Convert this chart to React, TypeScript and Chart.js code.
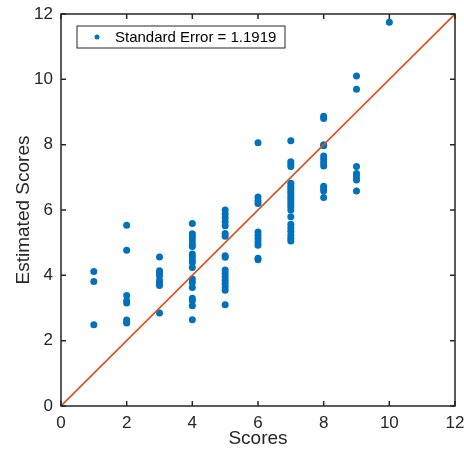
import { useEffect, useRef } from "react";
import { Chart, registerables } from "chart.js";

Chart.register(...registerables);

const scoreLevels = [1, 2, 3, 4, 5, 6, 7, 8, 9, 10];
const estimatesByScore = [
  [4.12, 3.81, 2.49],
  [5.53, 4.77, 3.38, 3.22, 3.15, 2.63, 2.58, 2.54],
  [4.56, 4.14, 4.06, 3.99, 3.84, 3.77, 3.69, 2.85],
  [5.59, 5.27, 5.18, 5.08, 4.96, 4.88, 4.65, 4.57, 4.47, 4.4, 4.24, 3.89, 3.78, 3.63, 3.3, 3.22, 3.07, 2.64],
  [6.0, 5.88, 5.76, 5.64, 5.52, 5.28, 5.2, 4.6, 4.55, 4.16, 4.06, 3.96, 3.85, 3.75, 3.64, 3.54, 3.1],
  [8.06, 6.4, 6.28, 6.2, 5.33, 5.23, 5.13, 5.02, 4.92, 4.52, 4.48],
  [8.12, 7.48, 7.41, 7.33, 6.82, 6.73, 6.66, 6.58, 6.51, 6.43, 6.35, 6.27, 6.18, 6.1, 6.0, 5.79, 5.56, 5.45, 5.35, 5.23, 5.13, 5.05],
  [8.87, 8.8, 8.0, 7.97, 7.65, 7.55, 7.45, 7.35, 6.73, 6.66, 6.58, 6.38],
  [10.1, 9.7, 7.33, 7.12, 7.02, 6.92, 6.58],
  [11.75],
];
const identityLine = [0, 12];
const axisTicks = [0, 2, 4, 6, 8, 10, 12];
const legendLabel = "Standard Error = 1.1919";

const BLUE = "rgb(0, 114, 189)";
const ORANGE = "rgb(217, 83, 25)";
const INK = "#262626";
const FONT = "'Liberation Sans', Arial, Helvetica, sans-serif";

const framePlugin = {
  id: "frame",
  afterDraw(chart: Chart) {
    const { ctx, chartArea } = chart;
    const { left, right, top, bottom } = chartArea;
    const xs = chart.scales.x;
    const ys = chart.scales.y;
    ctx.save();
    ctx.strokeStyle = INK;
    ctx.lineWidth = 1.5;
    ctx.strokeRect(left, top, right - left, bottom - top);
    ctx.beginPath();
    axisTicks.forEach((t) => {
      const px = xs.getPixelForValue(t);
      ctx.moveTo(px, bottom);
      ctx.lineTo(px, bottom - 5);
      ctx.moveTo(px, top);
      ctx.lineTo(px, top + 5);
      const py = ys.getPixelForValue(t);
      ctx.moveTo(left, py);
      ctx.lineTo(left + 5, py);
      ctx.moveTo(right, py);
      ctx.lineTo(right - 5, py);
    });
    ctx.stroke();

    // legend box inside the plot, top left
    const bx = left + 16;
    const by = top + 12;
    const bw = 208;
    const bh = 22;
    ctx.fillStyle = "#fff";
    ctx.fillRect(bx, by, bw, bh);
    ctx.lineWidth = 1;
    ctx.strokeRect(bx, by, bw, bh);
    ctx.fillStyle = BLUE;
    ctx.beginPath();
    ctx.arc(bx + 20, by + bh / 2, 2.5, 0, Math.PI * 2);
    ctx.fill();
    ctx.fillStyle = "#000";
    ctx.font = `15px ${FONT}`;
    ctx.textBaseline = "middle";
    ctx.fillText(legendLabel, bx + 38, by + bh / 2 + 1);
    ctx.restore();
  },
};

export default function App() {
  const canvasRef = useRef<HTMLCanvasElement>(null);

  useEffect(() => {
    if (!canvasRef.current) return;

    const points = scoreLevels.flatMap((s, i) =>
      estimatesByScore[i].map((e) => ({ x: s, y: e }))
    );

    const chart = new Chart(canvasRef.current, {
      type: "scatter",
      data: {
        datasets: [
          {
            label: "identity",
            data: identityLine.map((v) => ({ x: v, y: v })),
            showLine: true,
            borderColor: ORANGE,
            borderWidth: 1.6,
            pointRadius: 0,
            order: 0,
          },
          {
            label: legendLabel,
            data: points,
            backgroundColor: BLUE,
            borderColor: BLUE,
            borderWidth: 0,
            pointRadius: 3.5,
            order: 1,
          },
        ],
      },
      options: {
        animation: false,
        responsive: false,
        devicePixelRatio: 1,
        layout: { padding: { left: 0, top: 14, right: 9, bottom: 0 } },
        plugins: { legend: { display: false }, tooltip: { enabled: false } },
        scales: {
          x: {
            type: "linear",
            min: 0,
            max: 12,
            afterBuildTicks: (s: any) => {
              s.ticks = axisTicks.map((v) => ({ value: v }));
            },
            afterFit: (s: any) => {
              s.height = 45;
              s.paddingLeft = 0;
              s.paddingRight = 0;
            },
            grid: { display: false, drawTicks: false, tickLength: 0 },
            border: { display: false },
            ticks: { color: INK, font: { size: 17, family: FONT }, padding: 7, maxRotation: 0 },
            title: {
              display: true,
              text: "Scores",
              color: INK,
              font: { size: 19, family: FONT },
              padding: { top: 0, bottom: 1 },
            },
          },
          y: {
            type: "linear",
            min: 0,
            max: 12,
            afterBuildTicks: (s: any) => {
              s.ticks = axisTicks.map((v) => ({ value: v }));
            },
            afterFit: (s: any) => {
              s.width = 61;
              s.paddingTop = 0;
              s.paddingBottom = 0;
            },
            grid: { display: false, drawTicks: false, tickLength: 0 },
            border: { display: false },
            ticks: { color: INK, font: { size: 17, family: FONT }, padding: 8 },
            title: {
              display: true,
              text: "Estimated Scores",
              color: INK,
              font: { size: 19, family: FONT },
              padding: { top: 12, bottom: 0 },
            },
          },
        },
      },
      plugins: [framePlugin],
    });

    return () => chart.destroy();
  }, []);

  return (
    <div style={{ position: "absolute", left: 0, top: 0, width: 464, height: 451, background: "#fff" }}>
      <canvas ref={canvasRef} width={464} height={451} />
    </div>
  );
}
